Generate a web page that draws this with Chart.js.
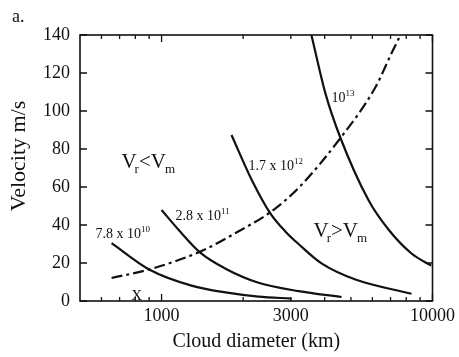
<!DOCTYPE html>
<html>
<head>
<meta charset="utf-8">
<script src="https://cdn.jsdelivr.net/npm/chart.js@4.4.1/dist/chart.umd.min.js"></script>
<style>
  html, body { margin: 0; padding: 0; background: #fff; }
  canvas { display: block; }
</style>
</head>
<body>
<canvas id="cloudChart" width="459" height="357"></canvas>
<script>
// cloud diameter (km) and velocity (m/s)
const diam78e10 = [654, 900, 1290, 1722, 2280, 3019];
const vel78e10 = [30.5, 16.6, 8.1, 4.5, 2.3, 1.3];

const diam28e11 = [1000, 1155, 1393, 1722, 2280, 3203, 4616];
const vel28e11 = [47.9, 37.5, 25.3, 17.0, 9.6, 5.2, 2.1];

const diam17e12 = [1812, 2148, 2524, 2868, 3203, 3894, 5197, 8365];
const vel17e12 = [87.4, 64, 46, 36.5, 30, 19.8, 11.3, 3.8];

const diam1e13 = [3573, 4030, 4575, 5808, 6879, 8365, 9896];
const vel1e13 = [140, 109, 85.8, 53, 37.6, 25, 18.6];

// Vr = Vm boundary (dash-dot)
const diamEq = [654, 900, 1405, 1875, 2524, 3203, 4575, 6163, 7063, 7620];
const velEq = [12.1, 16.6, 26.3, 35.8, 46.8, 59.5, 85.8, 112.6, 130.5, 140];

// axis ticks
const xTickValues = [600, 700, 800, 900, 1000, 2000, 3000, 4000, 5000, 6000, 7000, 8000, 9000, 10000];
const xTickLabels = [1000, 3000, 10000];
const yTickValues = [0, 20, 40, 60, 80, 100, 120, 140];

// curve labels (mantissa, exponent, anchor in data units)
const curveMant = ['7.8 x 10', '2.8 x 10', '1.7 x 10', '10'];
const curveExp = ['10', '11', '12', '13'];
const curveLabelX = [571, 1126, 2095, 4238];
const curveLabelY = [33.2, 42.6, 68.9, 104.7];

// region labels
const regionRel = ['<', '>'];
const regionX = [711, 3638];
const regionY = [70, 33.7];

// the X mark
const markX = [810];
const markY = [0];

const SERIF = "'Liberation Serif', 'Times New Roman', serif";

function pts(xs, ys) {
  return xs.map((v, i) => ({ x: v, y: ys[i] }));
}

function drawRich(ctx, x, y, parts) {
  let cx = x;
  parts.forEach(p => {
    ctx.font = p.font;
    ctx.fillText(p.text, cx, y + (p.dy || 0));
    cx += ctx.measureText(p.text).width + (p.gap || 0);
  });
}

const framePlugin = {
  id: 'frame',
  afterDatasetsDraw(chart) {
    const { ctx, chartArea: a, scales: { x, y } } = chart;
    ctx.save();
    ctx.strokeStyle = '#111';
    ctx.lineWidth = 1.6;
    ctx.strokeRect(a.left, a.top, a.right - a.left, a.bottom - a.top);

    ctx.lineWidth = 1.3;
    ctx.beginPath();
    xTickValues.forEach(v => {
      const px = x.getPixelForValue(v);
      const len = (v === 1000 || v === 10000) ? 7 : 4;
      ctx.moveTo(px, a.bottom); ctx.lineTo(px, a.bottom - len);
      ctx.moveTo(px, a.top); ctx.lineTo(px, a.top + len);
    });
    yTickValues.forEach(v => {
      const py = y.getPixelForValue(v);
      ctx.moveTo(a.left, py); ctx.lineTo(a.left + 7, py);
      ctx.moveTo(a.right, py); ctx.lineTo(a.right - 7, py);
    });
    ctx.stroke();

    ctx.fillStyle = '#111';
    ctx.textBaseline = 'alphabetic';
    ctx.textAlign = 'left';

    // curve labels
    curveMant.forEach((m, i) => {
      drawRich(ctx, x.getPixelForValue(curveLabelX[i]), y.getPixelForValue(curveLabelY[i]), [
        { text: m, font: '14px ' + SERIF },
        { text: curveExp[i], font: '9px ' + SERIF, dy: -6 }
      ]);
    });

    // Vr < Vm, Vr > Vm
    regionRel.forEach((r, i) => {
      drawRich(ctx, x.getPixelForValue(regionX[i]), y.getPixelForValue(regionY[i]), [
        { text: 'V', font: '21px ' + SERIF, gap: -2 },
        { text: 'r', font: '13px ' + SERIF, dy: 5 },
        { text: r, font: '21px ' + SERIF },
        { text: 'V', font: '21px ' + SERIF, gap: -1 },
        { text: 'm', font: '13px ' + SERIF, dy: 5 }
      ]);
    });

    // X mark
    ctx.textAlign = 'center';
    ctx.font = '15px ' + SERIF;
    markX.forEach((v, i) => {
      ctx.fillText('X', x.getPixelForValue(v), y.getPixelForValue(markY[i]) - 1);
    });

    // y axis title
    ctx.save();
    ctx.translate(19, 156);
    ctx.rotate(-Math.PI / 2);
    ctx.textBaseline = 'middle';
    ctx.font = '22px ' + SERIF;
    ctx.fillText('Velocity m/s', 0, 0);
    ctx.restore();

    // panel letter
    ctx.textAlign = 'left';
    ctx.font = '18px ' + SERIF;
    ctx.fillText('a.', 12, 22);
    ctx.restore();
  }
};

const solid = { borderColor: '#111', borderWidth: 2.2, pointRadius: 0, fill: false, cubicInterpolationMode: 'monotone' };

new Chart(document.getElementById('cloudChart'), {
  type: 'scatter',
  data: {
    datasets: [
      Object.assign({ label: '7.8e10', data: pts(diam78e10, vel78e10), showLine: true }, solid),
      Object.assign({ label: '2.8e11', data: pts(diam28e11, vel28e11), showLine: true }, solid),
      Object.assign({ label: '1.7e12', data: pts(diam17e12, vel17e12), showLine: true }, solid),
      Object.assign({ label: '1e13', data: pts(diam1e13, vel1e13), showLine: true }, solid),
      Object.assign({ label: 'Vr=Vm', data: pts(diamEq, velEq), showLine: true, borderDash: [11, 4, 3, 4] }, solid)
    ]
  },
  options: {
    responsive: false,
    animation: false,
    devicePixelRatio: 1,
    layout: { padding: { top: 35, right: 25, left: 0, bottom: 0 } },
    plugins: { legend: { display: false }, tooltip: { enabled: false } },
    scales: {
      x: {
        type: 'logarithmic',
        min: 500,
        max: 10000,
        afterBuildTicks: s => { s.ticks = xTickValues.map(v => ({ value: v })); },
        afterFit: s => { s.height = 56; },
        grid: { display: false, drawTicks: false },
        border: { display: false },
        ticks: {
          autoSkip: false,
          maxRotation: 0,
          padding: 4,
          color: '#111',
          font: { family: SERIF, size: 18 },
          callback: v => xTickLabels.includes(v) ? String(v) : ''
        },
        title: {
          display: true,
          text: 'Cloud diameter (km)',
          color: '#111',
          font: { family: SERIF, size: 20 },
          padding: { top: 0, bottom: 3 }
        }
      },
      y: {
        min: 0,
        max: 140,
        afterBuildTicks: s => { s.ticks = yTickValues.map(v => ({ value: v })); },
        afterFit: s => { s.width = 80; },
        grid: { display: false, drawTicks: false },
        border: { display: false },
        ticks: {
          padding: 10,
          color: '#111',
          font: { family: SERIF, size: 18 }
        }
      }
    }
  },
  plugins: [framePlugin]
});
</script>
</body>
</html>
